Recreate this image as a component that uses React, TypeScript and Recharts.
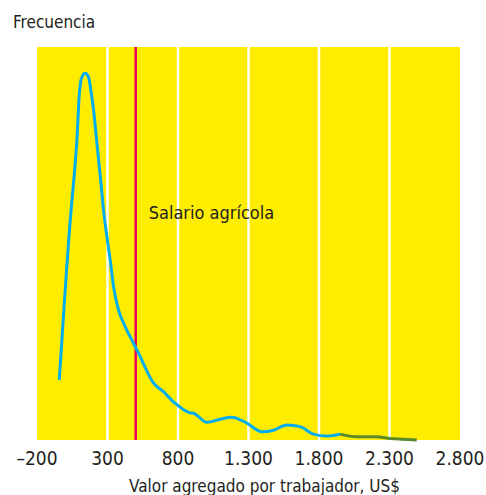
import { LineChart, Line, XAxis, YAxis, ReferenceLine, ReferenceArea } from "recharts";

const xTicks = [-200, 300, 800, 1300, 1800, 2300, 2800];
const xTickLabels = ["–200", "300", "800", "1.300", "1.800", "2.300", "2.800"];
const gridValues = [300, 800, 1300, 1800, 2300];
const wageValue = 500;

// curva de densidad, tramo azul
const mainX = [-42, -11, 36, 48, 71, 83, 100, 119, 142, 165, 178, 201, 225, 249, 272, 296, 319, 343, 378, 426, 473, 520, 626, 697, 768, 886, 910, 1005, 1099, 1182, 1288, 1395, 1477, 1572, 1666, 1760, 1855, 1950];
const mainY = [15.3, 32.3, 56, 61, 70.4, 76.3, 88, 92.4, 93.3, 92.4, 89.9, 84, 75.5, 67, 58.5, 51.7, 45.8, 39, 33.1, 28.8, 25.4, 22.1, 14.5, 12.3, 9.7, 6.9, 6.8, 4.5, 5.3, 5.8, 4.3, 2.1, 2.5, 3.8, 3.4, 1.5, 1.0, 1.5];

// cola en verde
const tailX = [1950, 2068, 2210, 2304, 2398, 2493];
const tailY = [1.5, 0.8, 0.8, 0.4, 0.2, 0];

const FONT = '"Liberation Sans Narrow", "DejaVu Sans Condensed", "Liberation Sans", sans-serif';
const TEXT = "#231f20";

const mainData = mainX.map((x, i) => ({ x, y: mainY[i] }));
const tailData = tailX.map((x, i) => ({ x, y: tailY[i] }));

export default function App() {
  return (
    <div style={{ position: "absolute", left: 0, top: 0, width: 486, height: 495, background: "#fff", fontFamily: FONT }}>
      <div style={{ position: "absolute", left: 13, top: 10, fontSize: 17, color: TEXT, lineHeight: "24px" }}>
        Frecuencia
      </div>
      <LineChart width={486} height={495} margin={{ top: 47, right: 26, left: 37, bottom: 0 }}>
        <XAxis
          type="number"
          dataKey="x"
          domain={[-200, 2800]}
          ticks={xTicks}
          tickFormatter={(v) => xTickLabels[xTicks.indexOf(v)]}
          axisLine={false}
          tickLine={false}
          tickSize={6}
          tickMargin={6}
          height={55}
          tick={{ fontSize: 19, fill: TEXT, fontFamily: FONT }}
          label={{ value: "Valor agregado por trabajador, US$", position: "insideBottom", offset: 3, dx: 16, fontSize: 17, fill: TEXT, fontFamily: FONT }}
        />
        <YAxis type="number" domain={[0, 100]} hide />
        <ReferenceArea x1={-200} x2={2800} y1={0} y2={100} fill="#ffed00" fillOpacity={1} stroke="none" />
        {gridValues.map((v) => (
          <ReferenceLine key={v} x={v} stroke="#ffffff" strokeWidth={2.5} />
        ))}
        <ReferenceLine
          x={wageValue}
          stroke="#e6005c"
          strokeWidth={2.5}
          label={(props: any) => {
            const vb = props.viewBox;
            return (
              <text x={vb.x + 13} y={vb.y + 172} fontSize={18} fill={TEXT} fontFamily={FONT}>
                Salario agrícola
              </text>
            );
          }}
        />
        <Line data={mainData} dataKey="y" type="monotone" stroke="#00aeef" strokeWidth={3} dot={false} isAnimationActive={false} />
        <Line data={tailData} dataKey="y" type="monotone" stroke="#5a8a2c" strokeWidth={3} dot={false} isAnimationActive={false} />
      </LineChart>
    </div>
  );
}
